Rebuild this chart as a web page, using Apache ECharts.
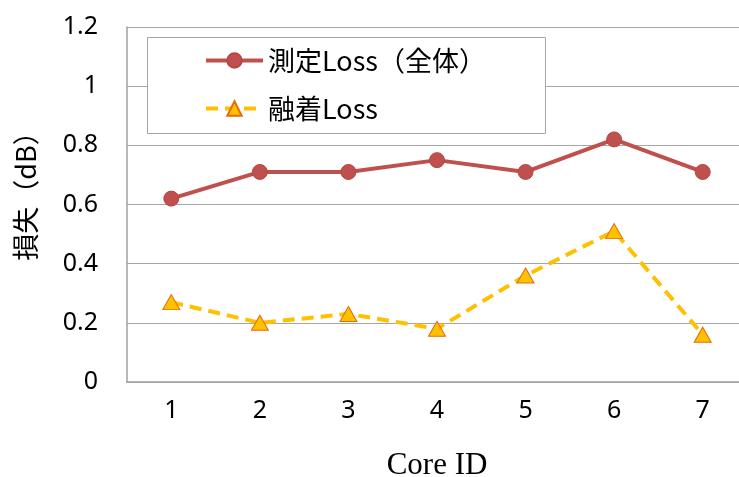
<!DOCTYPE html>
<html>
<head>
<meta charset="utf-8">
<script src="https://cdn.jsdelivr.net/npm/echarts@6/dist/echarts.min.js"></script>
<style>
  html, body { margin: 0; padding: 0; background: #fff; }
  #chart { width: 739px; height: 477px; }
</style>
</head>
<body>
<div id="chart"></div>
<script>
// Per-core loss values (dB)
const coreIds = ['1', '2', '3', '4', '5', '6', '7'];
const totalLoss = [0.62, 0.71, 0.71, 0.75, 0.71, 0.82, 0.71];
const spliceLoss = [0.27, 0.20, 0.23, 0.18, 0.36, 0.51, 0.16];
const seriesNames = ['測定Loss（全体）', '融着Loss'];

const sansFont = '"Noto Sans CJK JP", "Noto Sans", sans-serif';
const numFont = '"Noto Sans", sans-serif';

const chart = echarts.init(document.getElementById('chart'), null, { renderer: 'canvas' });

chart.setOption({
  animation: false,
  backgroundColor: '#ffffff',
  // plot area runs past the right edge of the canvas
  grid: {
    left: 127, top: 27, width: 620, height: 355,
    containLabel: false,
    outerBoundsMode: 'none'
  },
  graphic: [{
    type: 'rect',
    z: 3,
    shape: { x: 147.5, y: 37.5, width: 398, height: 96 },
    style: { fill: '#ffffff', stroke: '#a6a6a6', lineWidth: 1 }
  }],
  legend: {
    orient: 'vertical',
    left: 199,
    top: 42,
    itemWidth: 57,
    itemHeight: 18,
    itemGap: 21,
    z: 5,
    lineStyle: { width: 4 },
    textStyle: { fontFamily: sansFont, fontSize: 27, lineHeight: 26, color: '#000' },
    data: seriesNames
  },
  xAxis: {
    type: 'category',
    data: coreIds,
    boundaryGap: true,
    name: 'Core ID',
    nameLocation: 'middle',
    nameGap: 68,
    nameTextStyle: { fontFamily: '"Liberation Serif", serif', fontSize: 31, color: '#000' },
    axisLine: { lineStyle: { color: '#a0a0a0', width: 1.5 } },
    axisTick: { inside: true, length: 9, lineStyle: { color: '#a0a0a0' } },
    axisLabel: { fontFamily: numFont, fontSize: 25, color: '#000', margin: 16 }
  },
  yAxis: {
    type: 'value',
    min: 0,
    max: 1.2,
    interval: 0.2,
    name: '損失（dB）',
    nameLocation: 'middle',
    nameGap: 88,
    nameRotate: 90,
    nameTextStyle: { fontFamily: sansFont, fontSize: 27, color: '#000', padding: [0, 0, 0, 30] },
    axisLine: { show: true, lineStyle: { color: '#a0a0a0', width: 1.5 } },
    axisTick: { show: false },
    splitLine: { lineStyle: { color: '#a6a6a6', width: 1.2 } },
    axisLabel: {
      fontFamily: numFont, fontSize: 25, color: '#000', margin: 29,
      formatter: v => String(Math.round(v * 10) / 10)
    }
  },
  series: [
    {
      name: seriesNames[0],
      type: 'line',
      data: totalLoss,
      symbol: 'circle',
      symbolSize: 15,
      lineStyle: { color: '#C0504D', width: 4 },
      itemStyle: { color: '#C0504D', borderColor: '#B44845', borderWidth: 1 },
      z: 2
    },
    {
      name: seriesNames[1],
      type: 'line',
      data: spliceLoss,
      symbol: 'triangle',
      symbolSize: [17, 15],
      lineStyle: { color: '#FFC000', width: 4, type: [12, 7] },
      itemStyle: { color: '#FFC000', borderColor: '#E46C0A', borderWidth: 1 },
      z: 2
    }
  ]
});
</script>
</body>
</html>
